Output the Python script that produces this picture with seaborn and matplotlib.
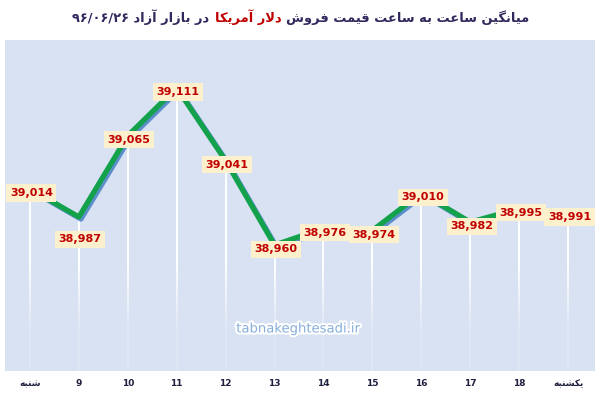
import numpy as np
import pandas as pd
import seaborn as sns
import matplotlib.pyplot as plt
import matplotlib.patheffects as pe

# -------- DATA --------
hours = ['شنبه', '9', '10', '11', '12', '13', '14', '15', '16', '17', '18', 'یکشنبه']
prices = [39014, 38987, 39065, 39111, 39041, 38960, 38976, 38974, 39010, 38982, 38995, 38991]
title_start = 'میانگین ساعت به ساعت قیمت فروش'
title_red = 'دلار آمریکا'
title_end = 'در بازار آزاد'
title_date = '۹۶/۰۶/۲۶'
watermark = 'tabnakeghtesadi.ir'

# -------- SIMPLE PERSIAN SHAPING (matplotlib has no RTL support) --------
FORMS = {
    'ا': ('\uFE8D', '\uFE8E', None, None),
    'آ': ('\uFE81', '\uFE82', None, None),
    'د': ('\uFEA9', '\uFEAA', None, None),
    'ر': ('\uFEAD', '\uFEAE', None, None),
    'ز': ('\uFEAF', '\uFEB0', None, None),
    'و': ('\uFEED', '\uFEEE', None, None),
    'ب': ('\uFE8F', '\uFE90', '\uFE91', '\uFE92'),
    'ت': ('\uFE95', '\uFE96', '\uFE97', '\uFE98'),
    'س': ('\uFEB1', '\uFEB2', '\uFEB3', '\uFEB4'),
    'ش': ('\uFEB5', '\uFEB6', '\uFEB7', '\uFEB8'),
    'ع': ('\uFEC9', '\uFECA', '\uFECB', '\uFECC'),
    'ف': ('\uFED1', '\uFED2', '\uFED3', '\uFED4'),
    'ق': ('\uFED5', '\uFED6', '\uFED7', '\uFED8'),
    'ل': ('\uFEDD', '\uFEDE', '\uFEDF', '\uFEE0'),
    'م': ('\uFEE1', '\uFEE2', '\uFEE3', '\uFEE4'),
    'ن': ('\uFEE5', '\uFEE6', '\uFEE7', '\uFEE8'),
    'ه': ('\uFEE9', '\uFEEA', '\uFEEB', '\uFEEC'),
    'ک': ('\uFB8E', '\uFB8F', '\uFB90', '\uFB91'),
    'گ': ('\uFB92', '\uFB93', '\uFB94', '\uFB95'),
    'ی': ('\uFBFC', '\uFBFD', '\uFBFE', '\uFBFF'),
}
LAM_ALEF = {'ا': ('\uFEFB', '\uFEFC'), 'آ': ('\uFEF5', '\uFEF6')}


def shape(text):
    res = []
    i = 0
    n = len(text)
    while i < n:
        c = text[i]
        if c not in FORMS:
            res.append(c)
            i += 1
            continue
        prev_joins = i > 0 and text[i - 1] in FORMS and FORMS[text[i - 1]][2] is not None
        if c == 'ل' and i + 1 < n and text[i + 1] in LAM_ALEF:
            iso, fin = LAM_ALEF[text[i + 1]]
            res.append(fin if prev_joins else iso)
            i += 2
            continue
        iso, fin, ini, med = FORMS[c]
        next_joins = ini is not None and i + 1 < n and text[i + 1] in FORMS
        if prev_joins and next_joins:
            res.append(med)
        elif prev_joins:
            res.append(fin)
        elif next_joins:
            res.append(ini)
        else:
            res.append(iso)
        i += 1
    return ''.join(res)


def rtl(text):
    # only reorder strings that actually contain Persian letters
    if not any(c in FORMS for c in text):
        return text
    return shape(text)[::-1]


# -------- STYLE --------
sns.set_style('white')
plt.rcParams['font.family'] = ['DejaVu Sans']

bg = '#d9e2f3'
dark = '#33285e'
red = '#c00000'

fig = plt.figure(figsize=(6, 3.96), dpi=100)
ax = fig.add_axes([5 / 600, 1 - 371 / 396, 590 / 600, 331 / 396])
ax.set_facecolor(bg)
for s in ax.spines.values():
    s.set_visible(False)

df = pd.DataFrame({'pos': np.arange(len(hours)), 'price': prices})

# white drop lines from each point to the bottom
ymin, ymax = 38839, 39157
ax.vlines(df['pos'], ymin, df['price'], color='white', lw=1.4, zorder=1)

# fade the drop lines towards the bottom
grad = np.zeros((100, 2, 4))
grad[..., :3] = np.array([0xd9, 0xe2, 0xf3]) / 255
fr = np.linspace(1, 0, 100)
grad[..., 3] = (np.clip((0.32 - fr) / 0.2, 0, 1) * 0.85)[:, None]
ax.imshow(grad, extent=[0, 1, 0, 1], transform=ax.transAxes, aspect='auto', zorder=2)

sns.lineplot(data=df, x='pos', y='price', ax=ax, color='#13a24b', lw=3.8, zorder=3,
             path_effects=[pe.SimpleLineShadow(offset=(1.5, -1.5), shadow_color='#4f86c6', alpha=0.9),
                           pe.Normal()])

# data labels
label_dy = {1: -16}
for i, (x, y) in enumerate(zip(df['pos'], df['price'])):
    ax.annotate(f'{y:,}', (x, y), xytext=(1, label_dy.get(i, -3)), textcoords='offset points',
                ha='center', va='center', fontsize=8, fontweight='bold', color=red, zorder=5,
                bbox=dict(boxstyle='square,pad=0.32', fc='#fdf0cc', ec='none'))

ax.set_xlim(-0.51, 11.55)
ax.set_ylim(ymin, ymax)
ax.set_yticks([])
ax.set_xticks(df['pos'])
ax.set_xticklabels([rtl(h) for h in hours], fontsize=6.5, fontweight='bold', color='#1f2040')
ax.tick_params(axis='x', length=0, pad=6)
ax.set_xlabel('')
ax.set_ylabel('')

ax.text(0.498, 0.127, watermark, transform=ax.transAxes, ha='center', va='center',
        fontsize=9.5, color='#86aedb', zorder=4,
        path_effects=[pe.withStroke(linewidth=3, foreground='white')])

# -------- TITLE (mixed colours, laid out right to left) --------
pieces = [(title_date + ' ' + rtl(title_end), dark),
          (rtl(title_red), red),
          (rtl(title_start), dark)]
texts = [fig.text(0, 0.945, p, color=c, fontsize=9.4, fontweight='bold', ha='left', va='baseline')
         for p, c in pieces]
fig.canvas.draw()
r = fig.canvas.get_renderer()
gap = 5
widths = [t.get_window_extent(r).width for t in texts]
total = sum(widths) + gap * (len(widths) - 1)
x0 = 301 - total / 2
for t, w in zip(texts, widths):
    t.set_x(x0 / 600)
    x0 += w + gap

plt.savefig('out.png', dpi=100)
